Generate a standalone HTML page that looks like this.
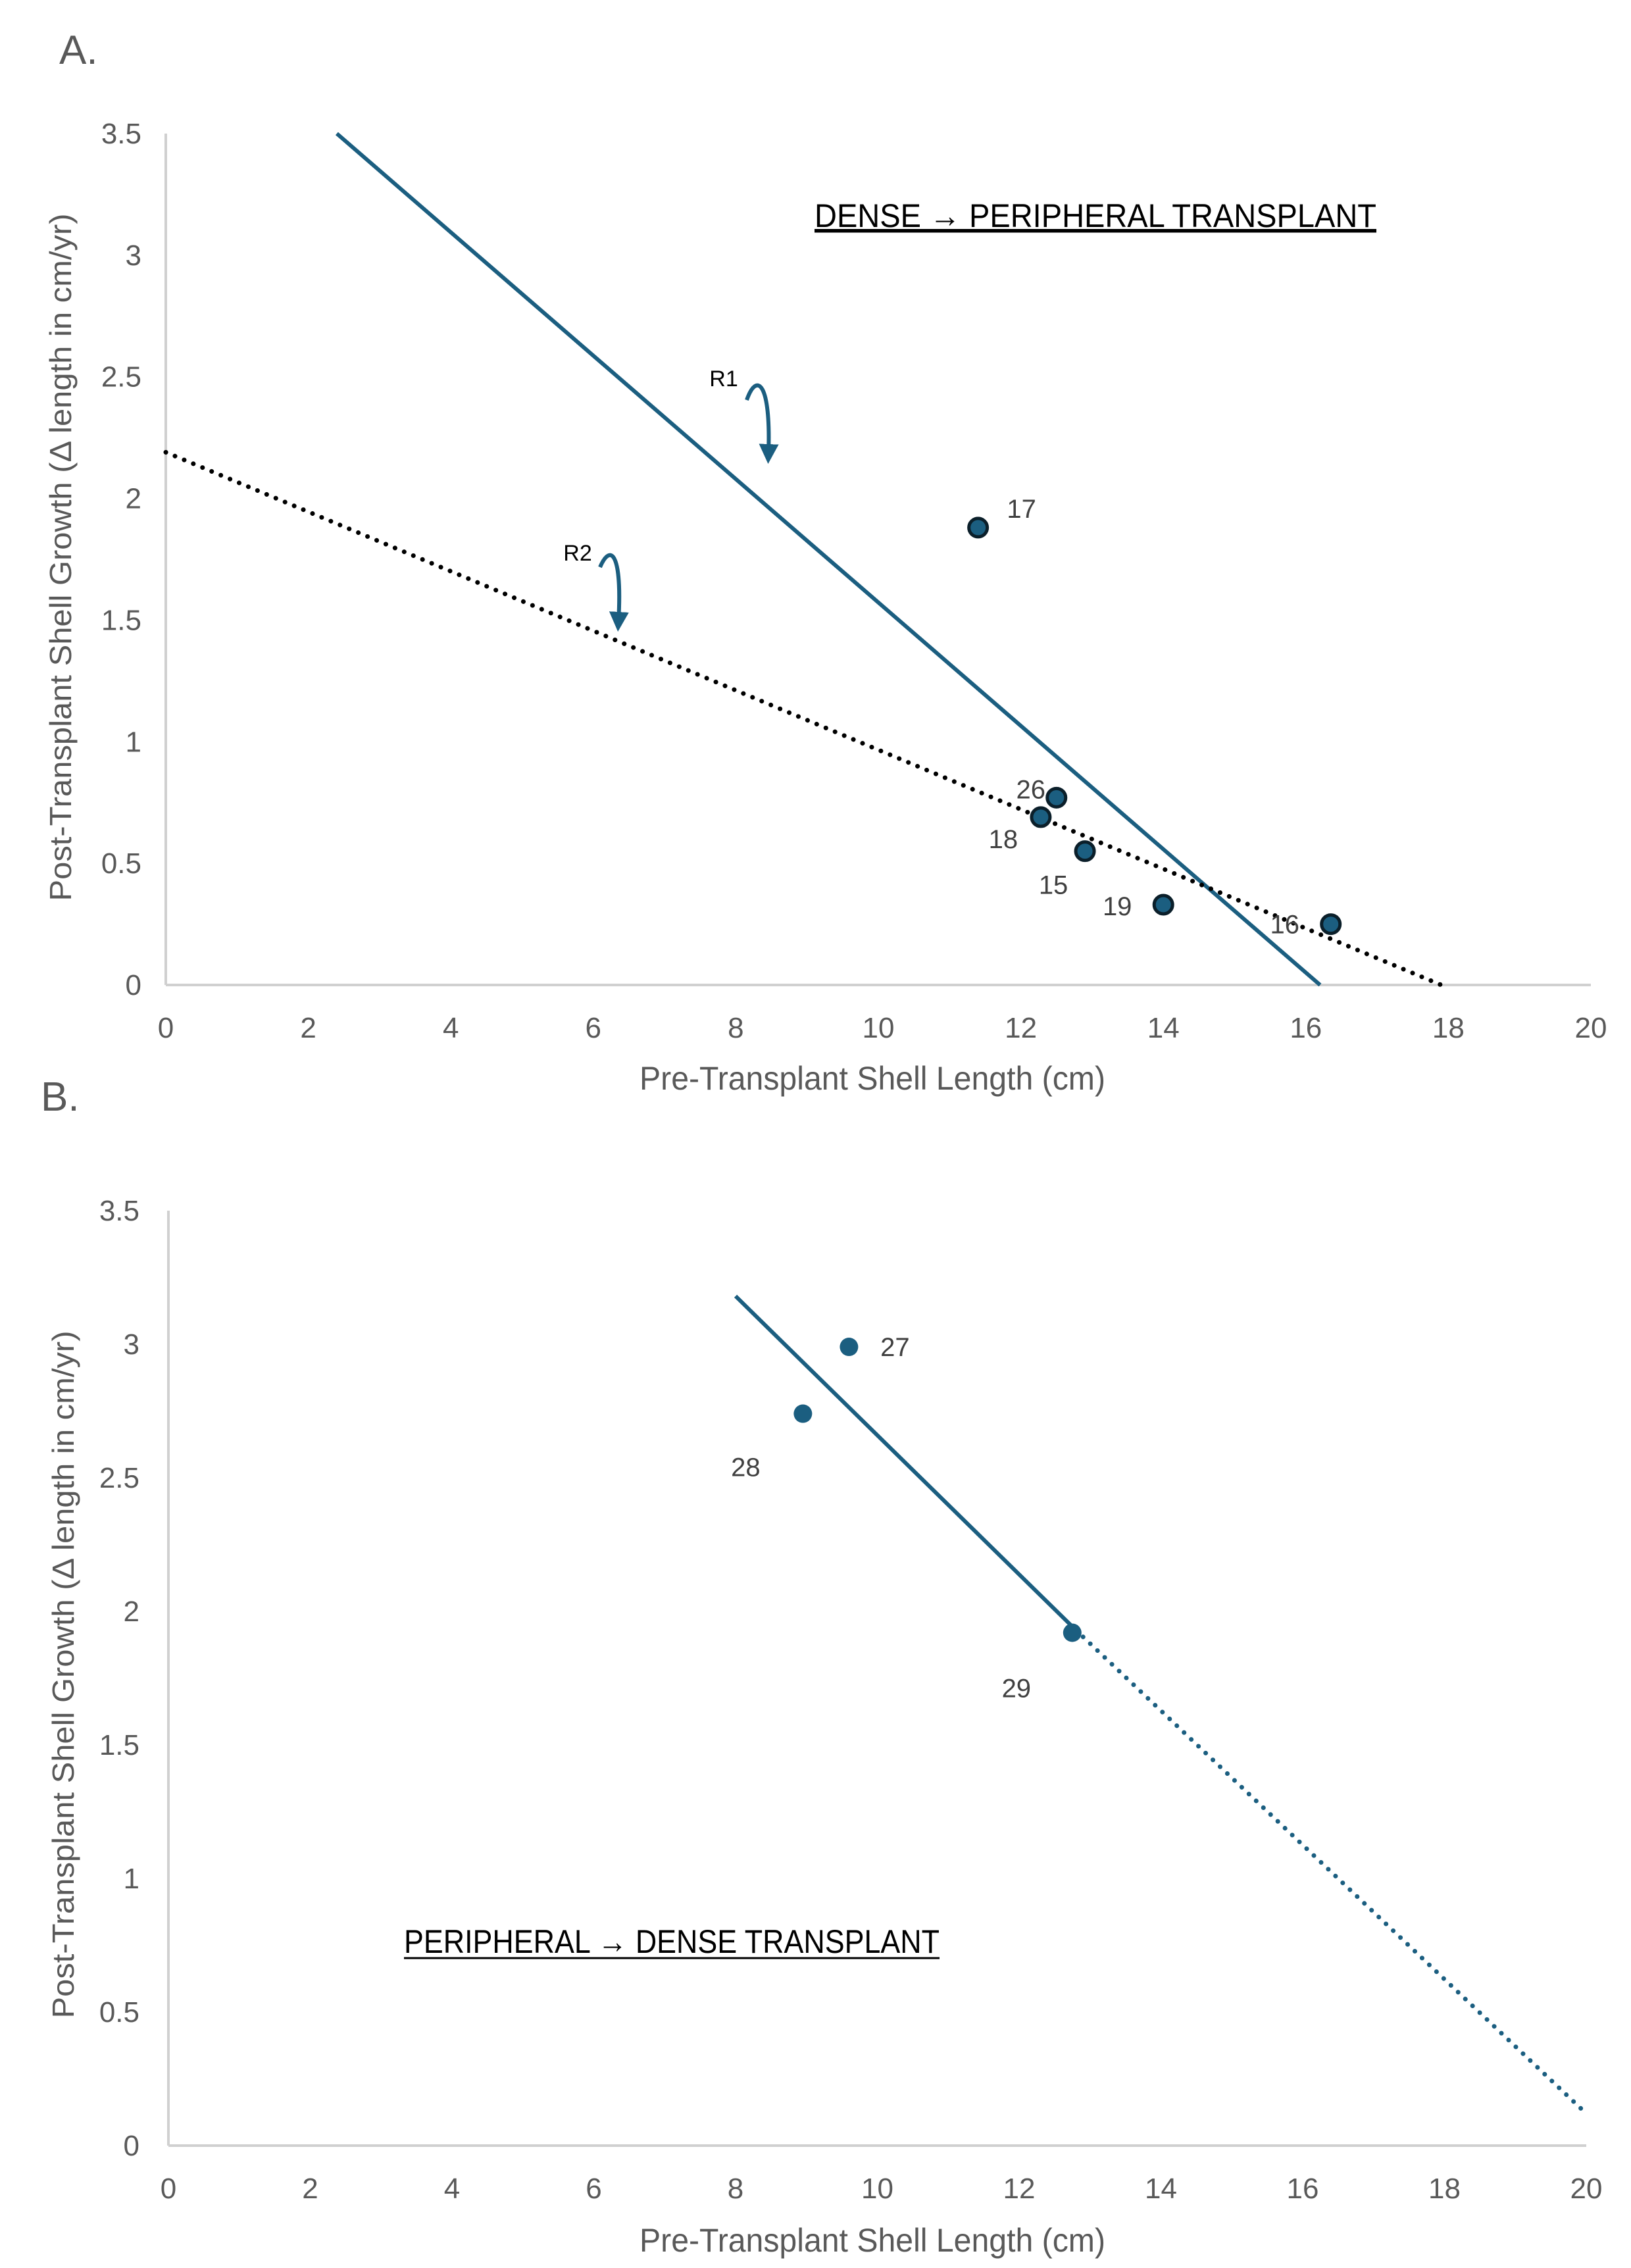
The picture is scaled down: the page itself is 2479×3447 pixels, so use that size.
<!DOCTYPE html>
<html><head><meta charset="utf-8">
<style>
html,body{margin:0;padding:0;background:#fff;}
svg{display:block;}
text{font-family:"Liberation Sans",sans-serif;}
</style></head>
<body>
<svg id="fig" width="2479" height="3447" viewBox="0 0 2479 3447" xmlns="http://www.w3.org/2000/svg">
<defs>
<marker id="ah" viewBox="0 0 10 10" refX="5" refY="5" markerWidth="5" markerHeight="5" orient="auto" markerUnits="strokeWidth">
<path d="M0,0 L10,5 L0,10 z" fill="#1b5e80"/></marker>
</defs>
<text x="90" y="97" font-size="62" fill="#595959">A.</text>
<text x="62" y="1688" font-size="62" fill="#595959">B.</text>
<g id="chartA"></g>
<g id="chartB"></g>
</svg>
<script>
const xTicks=[0,2,4,6,8,10,12,14,16,18,20];
const yTicks=[0,0.5,1,1.5,2,2.5,3,3.5];
const yTickLabels=["0","0.5","1","1.5","2","2.5","3","3.5"];
// Panel A data
const aIds=["17","26","18","15","19","16"];
const aX=[11.4,12.5,12.28,12.9,14.0,16.35];
const aY=[1.88,0.77,0.69,0.55,0.33,0.25];
const aR1=[[2.4,3.5],[16.2,0]];
const aR2=[[0,2.19],[17.9,0]];
// Panel B data
const bIds=["27","28","29"];
const bX=[9.6,8.95,12.75];
const bY=[2.99,2.74,1.92];
const bSolid=[[8,3.18],[12.8,1.93]];
const bDotted=[[12.8,1.93],[20,0.12]];

const NS="http://www.w3.org/2000/svg";
function mk(parent,tag,attrs,txt){const e=document.createElementNS(NS,tag);for(const k in attrs)e.setAttribute(k,attrs[k]);if(txt!==undefined)e.textContent=txt;parent.appendChild(e);return e;}
function axes(g,P){
  const sx=v=>P.x0+(P.x1-P.x0)*v/20, sy=v=>P.y0-(P.y0-P.y1)*v/3.5;
  let l=mk(g,'line',{x1:P.x0,y1:P.y0,x2:P.x1,y2:P.y0,stroke:'#d0d0d0','stroke-width':4});
  
  
  l=mk(g,'line',{x1:P.x0,y1:P.y0,x2:P.x0,y2:P.y1,stroke:'#d0d0d0','stroke-width':4});
  
  
  xTicks.forEach(v=>{const t=mk(g,'text',{x:sx(v),y:P.y0+80,'text-anchor':'middle','font-size':44,fill:'#595959'},String(v));
    
    });
  yTicks.forEach((v,i)=>{const t=mk(g,'text',{x:P.yl,y:sy(v)+15,'text-anchor':'end','font-size':44,fill:'#595959'},yTickLabels[i]);
    
    });
  let t=mk(g,'text',{x:1326,y:P.xt,'text-anchor':'middle','font-size':50,fill:'#595959',textLength:708,lengthAdjust:'spacingAndGlyphs'},'Pre-Transplant Shell Length (cm)');
  
  
  t=mk(g,'text',{x:0,y:0,'text-anchor':'middle','font-size':46,fill:'#595959',textLength:1045,lengthAdjust:'spacingAndGlyphs',transform:`translate(${P.ytx},${P.ytc}) rotate(-90)`},'Post-Transplant Shell Growth (Δ length in cm/yr)');
  
  
  return {sx,sy};
}
// Panel A
const gA=document.getElementById('chartA');
const A=axes(gA,{x0:252,x1:2418,y0:1497,y1:203,yl:215,xt:1656,ytx:108,ytc:847});
let ln=mk(gA,'line',{x1:A.sx(aR1[0][0]),y1:A.sy(aR1[0][1]),x2:A.sx(aR1[1][0]),y2:A.sy(aR1[1][1]),stroke:'#1b5e80','stroke-width':6});


ln=mk(gA,'line',{x1:A.sx(aR2[0][0]),y1:A.sy(aR2[0][1]),x2:A.sx(aR2[1][0]),y2:A.sy(aR2[1][1]),stroke:'#000','stroke-width':7,'stroke-dasharray':'0.1 15','stroke-linecap':'round'});


const aOff=[[66,-29],[-39,-13],[-57,33],[-48,51],[-70,2],[-70,0]];
aIds.forEach((id,i)=>{
  const cx=A.sx(aX[i]),cy=A.sy(aY[i]);
  const c=mk(gA,'circle',{cx:cx,cy:cy,r:14,fill:'#1b5e80',stroke:'#0b1f2a','stroke-width':5});
  
  
  const t=mk(gA,'text',{x:cx+aOff[i][0],y:cy+aOff[i][1]+14,'text-anchor':'middle','font-size':40,fill:'#404040'},id);
  
  
});
// annotations
let an=mk(gA,'text',{x:1100,y:587,'text-anchor':'middle','font-size':34,fill:'#000'},'R1');


an=mk(gA,'path',{d:'M1135,608 C1150,565 1172,580 1168,690',fill:'none',stroke:'#1b5e80','stroke-width':6,'marker-end':'url(#ah)'});


an=mk(gA,'text',{x:878,y:852,'text-anchor':'middle','font-size':34,fill:'#000'},'R2');


an=mk(gA,'path',{d:'M912,862 C928,825 946,840 940,945',fill:'none',stroke:'#1b5e80','stroke-width':6,'marker-end':'url(#ah)'});


an=mk(gA,'text',{x:1238,y:345,'font-size':50,fill:'#000','text-decoration':'underline',textLength:854,lengthAdjust:'spacingAndGlyphs'},'DENSE  → PERIPHERAL TRANSPLANT');


an=mk(gA,'line',{x1:1238,y1:352,x2:2092,y2:352,stroke:'#000','stroke-width':3});


// Panel B
const gB=document.getElementById('chartB');
const B=axes(gB,{x0:256,x1:2411,y0:3261,y1:1840,yl:212,xt:3422,ytx:112,ytc:2545});
ln=mk(gB,'line',{x1:B.sx(bSolid[0][0]),y1:B.sy(bSolid[0][1]),x2:B.sx(bSolid[1][0]),y2:B.sy(bSolid[1][1]),stroke:'#1b5e80','stroke-width':6});


ln=mk(gB,'line',{x1:B.sx(bDotted[0][0]),y1:B.sy(bDotted[0][1]),x2:B.sx(bDotted[1][0]),y2:B.sy(bDotted[1][1]),stroke:'#1b5e80','stroke-width':7,'stroke-dasharray':'0.1 15','stroke-linecap':'round'});


const bOff=[[70,0],[-87,81],[-85,84]];
bIds.forEach((id,i)=>{
  const cx=B.sx(bX[i]),cy=B.sy(bY[i]);
  const c=mk(gB,'circle',{cx:cx,cy:cy,r:14,fill:'#1b5e80'});
  
  
  const t=mk(gB,'text',{x:cx+bOff[i][0],y:cy+bOff[i][1]+14,'text-anchor':'middle','font-size':40,fill:'#404040'},id);
  
  
});
an=mk(gB,'text',{x:614,y:2968,'font-size':50,fill:'#000',textLength:814,lengthAdjust:'spacingAndGlyphs'},'PERIPHERAL → DENSE TRANSPLANT');


an=mk(gB,'line',{x1:614,y1:2976,x2:1428,y2:2976,stroke:'#000','stroke-width':3});


</script>
</body></html>
